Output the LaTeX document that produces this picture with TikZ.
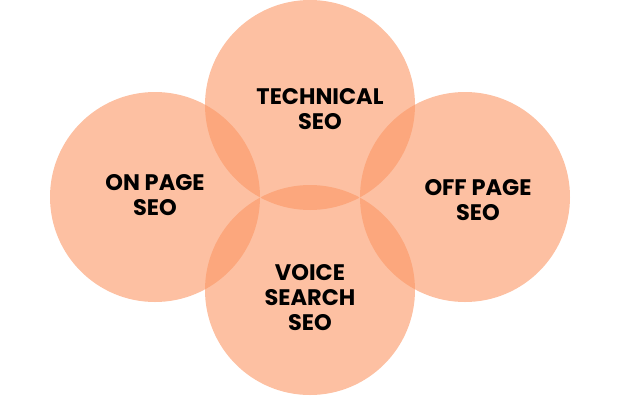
\documentclass[tikz,border=0pt]{standalone}
\usepackage{fontspec}
\setmainfont{Poppins}
\definecolor{peach}{RGB}{251,150,100}
\begin{document}
\begin{tikzpicture}[x=1pt,y=-1pt,
  circ/.style={fill=peach,fill opacity=0.6,draw=none},
  lab/.style={align=center,font=\fontsize{22.5}{25}\selectfont\bfseries,text=black}]
\useasboundingbox (0,0) rectangle (640,400);
\fill[circ] (310,105) circle (105);
\fill[circ] (155,197) circle (105);
\fill[circ] (465,197) circle (105);
\fill[circ] (310,290) circle (105);
\node[lab] (t) at (320,109) {TECHNICAL\\SEO};
\node[lab] (o) at (155,195) {ON PAGE\\SEO};
\node[lab] (f) at (478,200) {OFF PAGE\\SEO};
\node[lab] (v) at (310,298) {VOICE\\SEARCH\\SEO};
\end{tikzpicture}
\end{document}
